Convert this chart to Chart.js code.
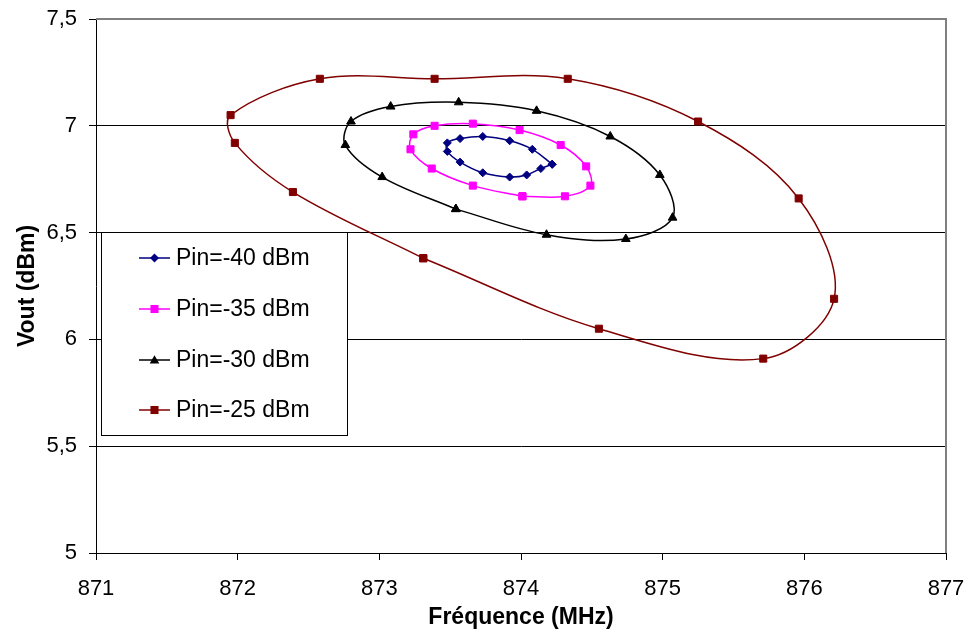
<!DOCTYPE html>
<html>
<head>
<meta charset="utf-8">
<script src="https://cdn.jsdelivr.net/npm/chart.js@4"></script>
<style>
  body { margin: 0; background: #fff; }
  #wrap { width: 965px; height: 631px; }
</style>
</head>
<body>
<div id="wrap"><canvas id="chart1" width="965" height="631"></canvas></div>
<script>
// donnees (MHz / dBm)
const seriesNames = ['Pin=-40 dBm', 'Pin=-35 dBm', 'Pin=-30 dBm', 'Pin=-25 dBm']

const freqPin40 = [874.22, 874.14, 874.04, 873.92, 873.73, 873.57, 873.48, 873.48, 873.57, 873.73, 873.92, 874.08, 874.22]
const voutPin40 = [6.82, 6.80, 6.77, 6.76, 6.78, 6.83, 6.88, 6.92, 6.94, 6.95, 6.93, 6.89, 6.82]

const freqPin35 = [874.01, 874.31, 874.49, 874.46, 874.28, 873.99, 873.66, 873.39, 873.24, 873.22, 873.37, 873.66, 874.01]
const voutPin35 = [6.67, 6.67, 6.72, 6.81, 6.91, 6.98, 7.01, 7.00, 6.96, 6.89, 6.80, 6.72, 6.67]

const freqPin30 = [873.54, 874.18, 874.74, 875.07, 874.98, 874.63, 874.11, 873.56, 873.08, 872.80, 872.76, 873.02, 873.54]
const voutPin30 = [6.61, 6.49, 6.47, 6.57, 6.77, 6.95, 7.07, 7.11, 7.09, 7.02, 6.91, 6.76, 6.61]

const freqPin25 = [873.31, 874.55, 875.71, 876.21, 875.96, 875.25, 874.33, 873.39, 872.58, 871.95, 871.98, 872.39, 873.31]
const voutPin25 = [6.38, 6.05, 5.91, 6.19, 6.66, 7.02, 7.22, 7.22, 7.22, 7.05, 6.92, 6.69, 6.38]

const xTicks = [871, 872, 873, 874, 875, 876, 877]
const yTicks = [5, 5.5, 6, 6.5, 7, 7.5]

const colors = ['#000080', '#FF00FF', '#000000', '#800000']
const styles = ['rectRot', 'rect', 'triangle', 'rect']
const radii = [4, 5, 5, 5]

const toPoints = (xs, ys) => xs.map((x, i) => ({ x, y: ys[i] }))
const allFreq = [freqPin40, freqPin35, freqPin30, freqPin25]
const allVout = [voutPin40, voutPin35, voutPin30, voutPin25]

const fontFamily = '"Liberation Sans", Arial, sans-serif'

function drawMarker(ctx, style, x, y, r, color) {
  ctx.save()
  ctx.fillStyle = color
  ctx.beginPath()
  if (style === 'rectRot') {
    ctx.moveTo(x, y - r - 0.5)
    ctx.lineTo(x + r + 0.5, y)
    ctx.lineTo(x, y + r + 0.5)
    ctx.lineTo(x - r - 0.5, y)
  } else if (style === 'rect') {
    const s = r * Math.SQRT1_2 + 0.5
    ctx.rect(x - s, y - s, 2 * s, 2 * s)
  } else {
    const h = r * 1.5 + 0.5
    ctx.moveTo(x, y - h * 0.6)
    ctx.lineTo(x + h * 0.6, y + h * 0.45)
    ctx.lineTo(x - h * 0.6, y + h * 0.45)
  }
  ctx.closePath()
  ctx.fill()
  ctx.restore()
}

// cadre gris haut/droite + legende dans la zone de trace
const framePlugin = {
  id: 'framePlugin',
  afterDraw(chart) {
    const { ctx, chartArea } = chart
    ctx.save()
    ctx.strokeStyle = '#808080'
    ctx.lineWidth = 2
    ctx.beginPath()
    ctx.moveTo(chartArea.left, chartArea.top)
    ctx.lineTo(chartArea.right, chartArea.top)
    ctx.lineTo(chartArea.right, chartArea.bottom)
    ctx.stroke()

    // legende
    const box = { x: 101, y: 232, w: 246, h: 203 }
    ctx.fillStyle = '#fff'
    ctx.fillRect(box.x, box.y, box.w, box.h)
    ctx.strokeStyle = '#000'
    ctx.lineWidth = 1
    ctx.strokeRect(box.x + 0.5, box.y + 0.5, box.w, box.h)
    const rows = [258, 309, 360, 410]
    ctx.font = '23px ' + fontFamily
    ctx.textBaseline = 'middle'
    ctx.textAlign = 'left'
    seriesNames.forEach((name, i) => {
      const y = rows[i]
      ctx.strokeStyle = colors[i]
      ctx.lineWidth = 1.5
      ctx.beginPath()
      ctx.moveTo(139, y)
      ctx.lineTo(170, y)
      ctx.stroke()
      drawMarker(ctx, styles[i], 154.5, y, radii[i], colors[i])
      ctx.fillStyle = '#000'
      ctx.fillText(name, 176, y + 1)
    })
    ctx.restore()
  }
}

const data = {
  datasets: seriesNames.map((name, i) => ({
    label: name,
    data: toPoints(allFreq[i], allVout[i]),
    showLine: true,
    tension: 0.35,
    borderColor: colors[i],
    backgroundColor: colors[i],
    borderWidth: 1.5,
    pointStyle: styles[i],
    pointRadius: radii[i],
    pointBorderWidth: 1,
    pointBorderColor: colors[i],
    pointBackgroundColor: colors[i]
  }))
}

const options = {
  responsive: false,
  animation: false,
  devicePixelRatio: 1,
  layout: { padding: { top: 19, right: 19, left: 0, bottom: 0 } },
  plugins: {
    legend: { display: false },
    tooltip: { enabled: false }
  },
  scales: {
    x: {
      type: 'linear',
      min: 871,
      max: 877,
      afterBuildTicks: scale => { scale.ticks = xTicks.map(value => ({ value })) },
      afterFit: scale => {
        scale.height = 78
        scale.paddingLeft = 0
        scale.paddingRight = 0
      },
      grid: { drawOnChartArea: false, drawTicks: true, tickLength: 7, color: '#000' },
      border: { color: '#000', width: 1 },
      ticks: { color: '#000', padding: 16, maxRotation: 0, font: { family: fontFamily, size: 22 } },
      title: {
        display: true,
        text: 'Fréquence (MHz)',
        color: '#000',
        padding: { top: 0, bottom: 0 },
        font: { family: fontFamily, size: 23, weight: 'bold' }
      }
    },
    y: {
      type: 'linear',
      min: 5,
      max: 7.5,
      afterBuildTicks: scale => { scale.ticks = yTicks.map(value => ({ value })) },
      afterFit: scale => {
        scale.width = 96
        scale.paddingTop = 0
        scale.paddingBottom = 0
      },
      grid: { color: '#000', tickLength: 7, lineWidth: 1 },
      border: { color: '#000', width: 1 },
      ticks: {
        color: '#000',
        padding: 12,
        font: { family: fontFamily, size: 22 },
        callback: v => String(v).replace('.', ',')
      },
      title: {
        display: true,
        text: 'Vout (dBm)',
        color: '#000',
        padding: { top: 14, bottom: 0 },
        font: { family: fontFamily, size: 23, weight: 'bold' }
      }
    }
  }
}

new Chart('chart1', {
  type: 'scatter',
  data,
  options,
  plugins: [framePlugin]
})
</script>
</body>
</html>
